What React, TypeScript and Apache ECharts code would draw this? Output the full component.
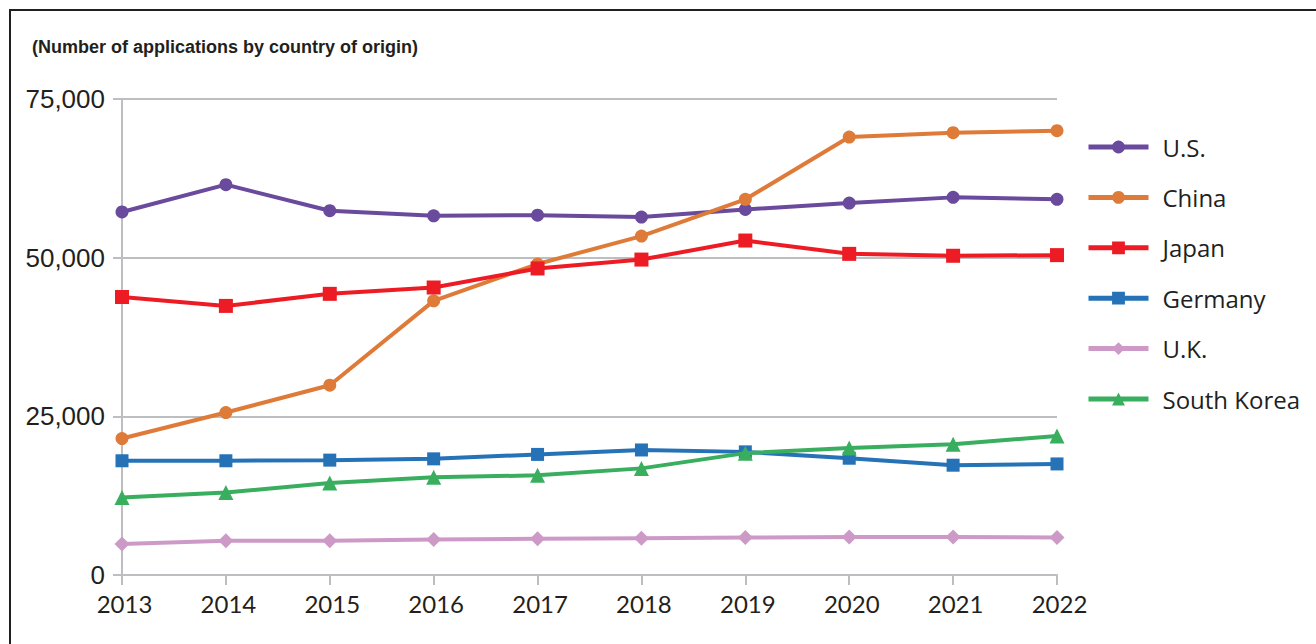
import React, { useEffect, useRef } from "react";
import * as echarts from "echarts";

const years = ["2013", "2014", "2015", "2016", "2017", "2018", "2019", "2020", "2021", "2022"];
const usData = [57200, 61500, 57400, 56600, 56700, 56400, 57600, 58600, 59500, 59200];
const chinaData = [21500, 25600, 29900, 43200, 49000, 53400, 59200, 69000, 69700, 70000];
const japanData = [43800, 42400, 44300, 45300, 48300, 49700, 52700, 50600, 50300, 50400];
const germanyData = [18000, 18000, 18100, 18300, 19000, 19700, 19400, 18400, 17300, 17500];
const ukData = [4900, 5400, 5400, 5600, 5700, 5800, 5900, 6000, 6000, 5900];
const koreaData = [12200, 13000, 14500, 15400, 15700, 16800, 19200, 20000, 20600, 21900];
const seriesNames = ["U.S.", "China", "Japan", "Germany", "U.K.", "South Korea"];
const unitLabel = "(Number of applications by country of origin)";

const colors = ["#6a4a9c", "#de7b39", "#ed1c24", "#2572b6", "#cd9ac8", "#3aae5f"];
const symbols = ["circle", "circle", "rect", "rect", "diamond", "triangle"];
const symbolSizes = [13, 13, 14, 13, 15, 15];

export default function App() {
  const ref = useRef<HTMLDivElement>(null);
  useEffect(() => {
    if (!ref.current) return;
    const chart = echarts.init(ref.current, null, { renderer: "svg" });
    const dataSets = [usData, chinaData, japanData, germanyData, ukData, koreaData];
    const textColor = "#231f20";
    const font = "Lato";
    chart.setOption({
      animation: false,
      backgroundColor: "#ffffff",
      graphic: [
        {
          type: "rect",
          shape: { x: 10, y: 10, width: 1400, height: 800 },
          style: { fill: "none", stroke: "#231f20", lineWidth: 2 },
          silent: true,
        },
        {
          type: "text",
          left: 32,
          top: 38,
          style: {
            text: unitLabel,
            fill: textColor,
            font: "bold 18px 'Liberation Sans', Arial, sans-serif",
          },
        },
      ],
      grid: { left: 122, right: 259, top: 99, bottom: 69, containLabel: false },
      legend: {
        orient: "vertical",
        left: 1086,
        top: 135,
        padding: 0,
        itemWidth: 60,
        itemHeight: 16,
        itemGap: 26.4,
        data: seriesNames,
        lineStyle: { width: 5 },
        textStyle: {
          fontFamily: "'Open Sans'",
          fontSize: 24,
          color: textColor,
          lineHeight: 24,
          padding: [0, 0, 0, 9],
        },
      },
      xAxis: {
        type: "category",
        data: years,
        boundaryGap: false,
        axisLine: { show: true, lineStyle: { color: "#bdbec1", width: 2 } },
        axisTick: { show: true, length: 10, alignWithLabel: true, lineStyle: { color: "#bdbec1", width: 2 } },
        axisLabel: { fontFamily: font, fontSize: 24, color: textColor, margin: 16, padding: [0, 0, 0, 5] },
        splitLine: { show: false },
      },
      yAxis: {
        type: "value",
        min: 0,
        max: 75000,
        interval: 25000,
        axisLine: { show: true, lineStyle: { color: "#bdbec1", width: 2 } },
        axisTick: { show: true, length: 9, lineStyle: { color: "#bdbec1", width: 2 } },
        axisLabel: {
          fontFamily: "'Liberation Sans', Arial, sans-serif",
          fontSize: 26,
          color: textColor,
          margin: 17,
          formatter: (v: number) => v.toLocaleString("en-US"),
        },
        splitLine: { show: true, lineStyle: { color: "#bdbec1", width: 2 } },
      },
      series: seriesNames.map((name, i) => ({
        name,
        type: "line",
        data: dataSets[i],
        symbol: symbols[i],
        symbolSize: symbolSizes[i],
        showSymbol: true,
        color: colors[i],
        lineStyle: { color: colors[i], width: 4 },
        itemStyle: { color: colors[i] },
        z: 2 + i,
      })),
    });
    return () => chart.dispose();
  }, []);
  return (
    <div
      ref={ref}
      style={{ position: "fixed", left: 0, top: 0, width: 1316, height: 644 }}
    />
  );
}
